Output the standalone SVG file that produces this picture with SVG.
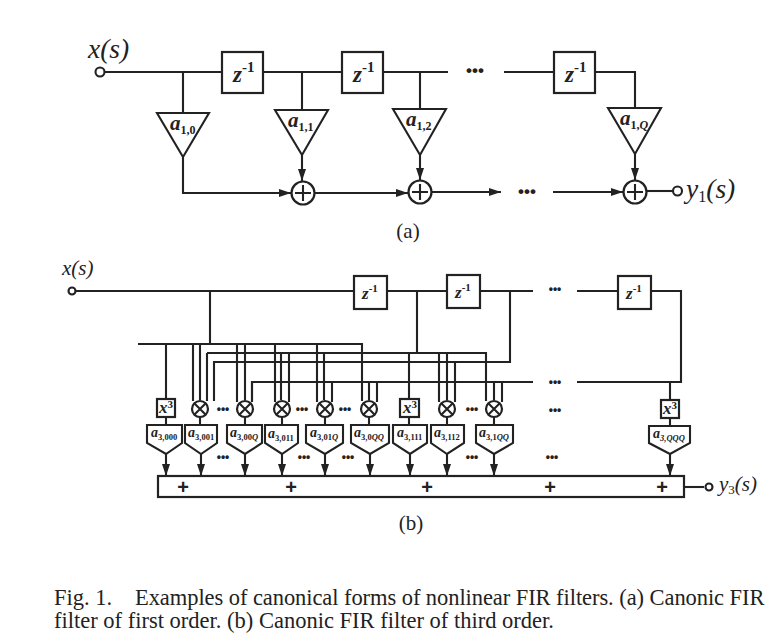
<svg xmlns="http://www.w3.org/2000/svg" width="776" height="640" viewBox="0 0 776 640">
<style>
text{font-family:"Liberation Serif","Times New Roman",serif;fill:#222}
.w{fill:none;stroke:#222;stroke-width:2.1}
.a{fill:none;stroke:#222;stroke-width:2.1;marker-end:url(#ah)}
.s{fill:#fff;stroke:#222;stroke-width:2.2}
.t{fill:#fff;stroke:#222;stroke-width:2.1}
.big{font-size:27.5px;font-style:italic}
.mid{font-size:21px;font-style:italic}
.z1{font-size:23px;font-style:italic;font-weight:bold}
.z3{font-size:17px;font-style:italic;font-weight:bold}
.c1{font-size:21px;font-style:italic;font-weight:bold}
.c3{font-size:14px;font-style:italic;font-weight:bold}
.sb{font-size:12px;font-weight:bold}
.sb3{font-size:8.5px;font-weight:bold}
.sup{font-size:15px;font-weight:bold;font-style:normal}
.sup3{font-size:11px;font-weight:bold;font-style:normal}
.d{font-size:17px;font-weight:bold;font-family:"Liberation Sans",sans-serif;text-anchor:middle;fill:#222}
.e{font-size:12px;font-weight:bold;font-family:"Liberation Sans",sans-serif;text-anchor:middle;fill:#222}
.p{font-size:20px;font-weight:bold;text-anchor:middle;font-family:"Liberation Sans",sans-serif}
.lab{font-size:21px;text-anchor:middle}
.cap{font-size:22.5px}
</style>
<defs>
<marker id="ah" markerUnits="userSpaceOnUse" markerWidth="13" markerHeight="10" refX="12" refY="4" orient="auto"><path d="M0 0L12 4L0 8Z" fill="#222"/></marker>
</defs>

<g id="connectors">
<path class="w" d="M105 72H222M263 72H342M383 72H448M504 72H554M595 72H635V108"/>
<path class="w" d="M183 72V113M302 72V110M420 72V109"/>
<path class="a" d="M183 157V193H291"/>
<path class="a" d="M302 155V181"/>
<path class="a" d="M420 155V180"/>
<path class="a" d="M635 154V180"/>
<path class="a" d="M315 193H408"/>
<path class="a" d="M432 192H501"/>
<path class="a" d="M553 192H623"/>
<path class="w" d="M647 191H673"/>

<path class="w" d="M76 291H353M387 291H447M480 291H533M577 291H618M651 291H681V382H577"/>
<path class="w" d="M210 291V344M138 344H362V401M417 291V353M207 353H486V401M510 291V362H214V401M252 401V382H533"/>
<path class="w" d="M166 344V399M166 417V425M193 344V401M200 344V400M207 353V401"/>
<path class="w" d="M237 344V402M245 344V400M252 382V402"/>
<path class="w" d="M275 344V402M281 353V400M289 353V402"/>
<path class="w" d="M317 344V402M324 353V400M332 382V402"/>
<path class="w" d="M369 382V400M377 382V402"/>
<path class="w" d="M409 353V399M409 417V425"/>
<path class="w" d="M439 353V402M447 353V400M455 362V402"/>
<path class="w" d="M494 382V400M502 382V402"/>
<path class="w" d="M670 382V400M670 418V426"/>
<path class="w" d="M200 417V425M245 417V425M282 417V425M325 417V425M369 417V425M447 417V425M494 417V425"/>
<path class="a" d="M166 454V476"/><path class="a" d="M201 454V476"/><path class="a" d="M245 454V476"/><path class="a" d="M282 454V476"/><path class="a" d="M325 454V476"/><path class="a" d="M370 454V476"/><path class="a" d="M410 454V476"/><path class="a" d="M447 454V476"/><path class="a" d="M494 454V476"/><path class="a" d="M670 454V476"/>
<path class="w" d="M684 487H704"/>
</g>

<g id="a-input"><circle class="t" cx="100" cy="72" r="4.500"/><text class="big" x="88" y="58">x(s)</text></g>
<g id="a-z1"><rect class="s" x="222" y="52" width="41" height="41"/><text class="z1" x="233" y="82">z<tspan class="sup" dy="-10">-1</tspan></text></g>
<g id="a-z2"><rect class="s" x="342" y="52" width="41" height="41"/><text class="z1" x="353" y="82">z<tspan class="sup" dy="-10">-1</tspan></text></g>
<g id="a-z3"><rect class="s" x="554" y="52" width="41" height="41"/><text class="z1" x="565" y="82">z<tspan class="sup" dy="-10">-1</tspan></text></g>
<g id="a-g0"><path class="t" d="M157 113H209L183 157Z"/><text class="c1" x="170" y="130">a<tspan class="sb" dy="4" font-style="normal">1,0</tspan></text></g>
<g id="a-g1"><path class="t" d="M275 110H328L302 155Z"/><text class="c1" x="288" y="127">a<tspan class="sb" dy="4" font-style="normal">1,1</tspan></text></g>
<g id="a-g2"><path class="t" d="M393 109H446L420 155Z"/><text class="c1" x="406" y="126">a<tspan class="sb" dy="4" font-style="normal">1,2</tspan></text></g>
<g id="a-g3"><path class="t" d="M608 108H661L635 154Z"/><text class="c1" x="620" y="125">a<tspan class="sb" dy="4" font-style="normal">1,</tspan><tspan class="sb" font-style="italic">Q</tspan></text></g>
<g id="a-s1"><circle class="s" cx="303" cy="193" r="11.500"/><path class="w" d="M295 193H311M303 185V201"/></g>
<g id="a-s2"><circle class="s" cx="420" cy="192" r="11.500"/><path class="w" d="M412 192H428M420 184V200"/></g>
<g id="a-s3"><circle class="s" cx="635" cy="192" r="11.500"/><path class="w" d="M627 192H643M635 184V200"/></g>
<g id="a-output"><circle class="t" cx="677.500" cy="191" r="4.500"/><text class="big" x="686" y="198">y<tspan font-size="16" font-style="normal" dy="4">1</tspan><tspan dy="-4">(s)</tspan></text></g>
<text class="d" x="475" y="76">•••</text><text class="d" x="527" y="197">•••</text>
<text class="lab" x="408" y="238">(a)</text>

<g id="b-input"><circle class="t" cx="72" cy="291" r="3.500"/><text class="mid" x="62" y="275">x(s)</text></g>
<g id="b-z1"><rect class="s" x="354" y="276" width="33" height="33"/><text class="z3" x="362" y="299">z<tspan class="sup3" dy="-7">-1</tspan></text></g>
<g id="b-z2"><rect class="s" x="447" y="275" width="33" height="33"/><text class="z3" x="455" y="298">z<tspan class="sup3" dy="-7">-1</tspan></text></g>
<g id="b-z3"><rect class="s" x="618" y="276" width="33" height="33"/><text class="z3" x="626" y="299">z<tspan class="sup3" dy="-7">-1</tspan></text></g>

<g id="b-x1"><rect class="s" x="157" y="399" width="18" height="18"/><text class="z3" x="159" y="413" font-size="15">x<tspan class="sup3" dy="-5">3</tspan></text></g>
<g id="b-x2"><rect class="s" x="400" y="399" width="19" height="18"/><text class="z3" x="403" y="413" font-size="15">x<tspan class="sup3" dy="-5">3</tspan></text></g>
<g id="b-x3"><rect class="s" x="661" y="400" width="18" height="18"/><text class="z3" x="663" y="414" font-size="15">x<tspan class="sup3" dy="-5">3</tspan></text></g>

<g id="b-m1"><circle class="s" cx="200" cy="409" r="8"/><path class="w" d="M194.500 403.500L205.500 414.500M205.500 403.500L194.500 414.500"/></g>
<g id="b-m2"><circle class="s" cx="245" cy="409" r="8"/><path class="w" d="M239.500 403.500L250.500 414.500M250.500 403.500L239.500 414.500"/></g>
<g id="b-m3"><circle class="s" cx="282" cy="409" r="8"/><path class="w" d="M276.500 403.500L287.500 414.500M287.500 403.500L276.500 414.500"/></g>
<g id="b-m4"><circle class="s" cx="325" cy="409" r="8"/><path class="w" d="M319.500 403.500L330.500 414.500M330.500 403.500L319.500 414.500"/></g>
<g id="b-m5"><circle class="s" cx="369" cy="409" r="8"/><path class="w" d="M363.500 403.500L374.500 414.500M374.500 403.500L363.500 414.500"/></g>
<g id="b-m6"><circle class="s" cx="447" cy="409" r="8"/><path class="w" d="M441.500 403.500L452.500 414.500M452.500 403.500L441.500 414.500"/></g>
<g id="b-m7"><circle class="s" cx="494" cy="409" r="8"/><path class="w" d="M488.500 403.500L499.500 414.500M499.500 403.500L488.500 414.500"/></g>

<g id="b-c1"><path class="t" d="M147 425H182V443L166 454L147 443Z"/><text class="c3" x="151" y="437">a<tspan class="sb3" dy="3" font-style="normal">3,000</tspan></text></g>
<g id="b-c2"><path class="t" d="M185 425H217V443L201 454L185 443Z"/><text class="c3" x="188" y="437">a<tspan class="sb3" dy="3" font-style="normal">3,001</tspan></text></g>
<g id="b-c3"><path class="t" d="M227 425H262V443L245 454L227 443Z"/><text class="c3" x="230" y="437">a<tspan class="sb3" dy="3" font-style="normal">3,00</tspan><tspan class="sb3" font-style="italic">Q</tspan></text></g>
<g id="b-c4"><path class="t" d="M265 425H298V443L282 454L265 443Z"/><text class="c3" x="268" y="438">a<tspan class="sb3" dy="3" font-style="normal">3,011</tspan></text></g>
<g id="b-c5"><path class="t" d="M306 425H343V443L325 454L306 443Z"/><text class="c3" x="310" y="437">a<tspan class="sb3" dy="3" font-style="normal">3,01</tspan><tspan class="sb3" font-style="italic">Q</tspan></text></g>
<g id="b-c6"><path class="t" d="M351 425H389V443L370 454L351 443Z"/><text class="c3" x="354" y="437">a<tspan class="sb3" dy="3" font-style="normal">3,0</tspan><tspan class="sb3" font-style="italic">QQ</tspan></text></g>
<g id="b-c7"><path class="t" d="M393 425H427V443L410 454L393 443Z"/><text class="c3" x="397" y="437">a<tspan class="sb3" dy="3" font-style="normal">3,111</tspan></text></g>
<g id="b-c8"><path class="t" d="M431 425H464V443L447 454L431 443Z"/><text class="c3" x="434" y="437">a<tspan class="sb3" dy="3" font-style="normal">3,112</tspan></text></g>
<g id="b-c9"><path class="t" d="M476 425H513V443L494 454L476 443Z"/><text class="c3" x="479" y="437">a<tspan class="sb3" dy="3" font-style="normal">3,1</tspan><tspan class="sb3" font-style="italic">QQ</tspan></text></g>
<g id="b-c10"><path class="t" d="M649 426H690V443L670 454L649 443Z"/><text class="c3" x="653" y="438">a<tspan class="sb3" dy="3" font-style="italic">3,QQQ</tspan></text></g>

<g id="b-sum"><rect class="s" x="158" y="476" width="526" height="21"/>
<text class="p" x="183" y="494">+</text><text class="p" x="291" y="494">+</text><text class="p" x="427" y="494">+</text><text class="p" x="550" y="494">+</text><text class="p" x="662" y="494">+</text></g>
<g id="b-output"><circle class="t" cx="709" cy="487" r="3.500"/><text class="mid" x="719" y="491">y<tspan font-size="13" font-style="normal" dy="3">3</tspan><tspan dy="-3">(s)</tspan></text></g>

<text class="e" x="555" y="293">•••</text>
<text class="e" x="555" y="386">•••</text>
<text class="e" x="555" y="414">•••</text>
<text class="e" x="552" y="461">•••</text>
<text class="e" x="223" y="413">•••</text>
<text class="e" x="302" y="413">•••</text>
<text class="e" x="345" y="413">•••</text>
<text class="e" x="472" y="413">•••</text>
<text class="e" x="223" y="461">•••</text>
<text class="e" x="304" y="461">•••</text>
<text class="e" x="348" y="461">•••</text>
<text class="e" x="472" y="461">•••</text>
<text class="lab" x="411" y="530">(b)</text>

<text class="cap" x="54" y="605">Fig. 1.<tspan x="135" letter-spacing="-0.07">Examples of canonical forms of nonlinear FIR filters. (a) Canonic FIR</tspan></text>
<text class="cap" x="54" y="628">filter of first order. (b) Canonic FIR filter of third order.</text>
</svg>
